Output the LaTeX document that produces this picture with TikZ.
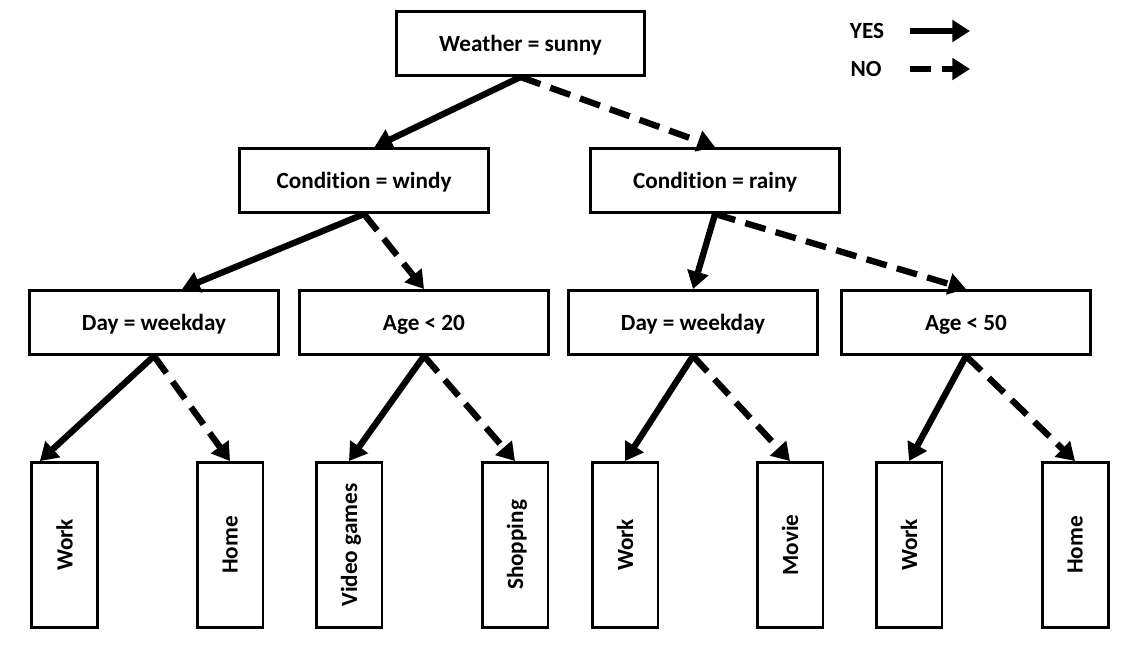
\documentclass[tikz,border=0pt]{standalone}
\usepackage{fontspec}
\setmainfont{Carlito}[Ligatures=NoCommon]
\usetikzlibrary{arrows.meta, positioning}

\begin{document}
\begin{tikzpicture}[
    x=0.02cm, y=-0.02cm,
    box/.style={rectangle, draw=black, line width=1.7pt, fill=white,
                minimum width=4.98cm, minimum height=1.28cm, inner sep=0pt,
                text depth=0pt, font=\bfseries\fontsize{13.2}{15}\selectfont},
    leaf/.style={box, rotate=90, minimum width=3.30cm, minimum height=1.32cm},
    yes/.style={-{Triangle[length=10pt, width=12pt]}, line width=3.6pt},
    no/.style={yes, dash pattern=on 12pt off 6pt}
]
    \useasboundingbox (0,0) rectangle (1136,647);

    % tree
    \node[box] (sunny) at (520.5,43.5) {Weather = sunny};

    \node[box] (windy) at (364,180.5) {Condition = windy};
    \node[box] (rainy) at (715,180.5) {Condition = rainy};

    \node[box] (dayA) at (154,322.5) {Day = weekday};
    \node[box] (ageA) at (424,322.5) {Age < 20};
    \node[box] (dayB) at (693,322.5) {Day = weekday};
    \node[box] (ageB) at (966,322.5) {Age < 50};

    \node[leaf] (workA)  at (64.5,545) {Work};
    \node[leaf] (homeA)  at (230,545)  {Home};
    \node[leaf] (games)  at (349,545)  {Video games};
    \node[leaf] (shop)   at (515,545)  {Shopping};
    \node[leaf] (workB)  at (625,545)  {Work};
    \node[leaf] (movie)  at (790,545)  {Movie};
    \node[leaf] (workC)  at (909,545)  {Work};
    \node[leaf] (homeB)  at (1075,545) {Home};

    \draw[yes] (sunny.south) -- ([xshift=6]windy.north);
    \draw[no]  (sunny.south) -- (rainy.north);
    \draw[yes] (windy.south) -- ([xshift=16]dayA.north);
    \draw[no]  (windy.south) -- (ageA.north);
    \draw[yes] (rainy.south) -- (dayB.north);
    \draw[no]  (rainy.south) -- (ageB.north);

    \draw[yes] (dayA.south) -- ([xshift=-14]workA.east);
    \draw[no]  (dayA.south) -- (homeA.east);
    \draw[yes] (ageA.south) -- (games.east);
    \draw[no]  (ageA.south) -- (shop.east);
    \draw[yes] (dayB.south) -- (workB.east);
    \draw[no]  (dayB.south) -- (movie.east);
    \draw[yes] (ageB.south) -- (workC.east);
    \draw[no]  (ageB.south) -- (homeB.east);

    % legend
    \node[font=\bfseries\fontsize{13.2}{15}\selectfont] (yeslbl) at (867,31) {YES};
    \node[font=\bfseries\fontsize{13.2}{15}\selectfont] (nolbl)  at (866,69) {NO};
    \coordinate (yesa) at (910,31);
    \coordinate (yesb) at (970,31);
    \coordinate (noa)  at (910,69);
    \coordinate (nob)  at (970,69);
    \draw[yes] (yesa) -- (yesb);
    \draw[no]  (noa) -- (nob);
\end{tikzpicture}
\end{document}
